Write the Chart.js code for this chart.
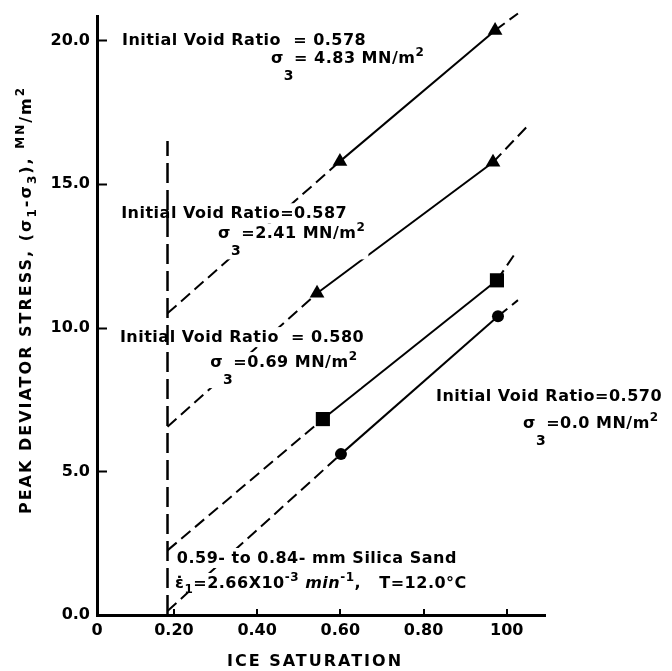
<!DOCTYPE html>
<html>
<head>
<meta charset="utf-8">
<title>Peak deviator stress vs ice saturation</title>
<script src="https://cdn.jsdelivr.net/npm/chart.js@4.4.1/dist/chart.umd.min.js"></script>
<style>
  html, body { margin: 0; padding: 0; background: #fff; }
  canvas { display: block; }
</style>
</head>
<body>
<canvas id="chart" width="672" height="671"></canvas>
<script>
/* global Chart */
(function () {
  'use strict';

  // axis ranges and tick labels
  const xMin = 0.015;
  const xMax = 1.092;
  const yMin = 0;
  const yMax = 20.83;
  const xTickValues = [0.015, 0.2, 0.4, 0.6, 0.8, 1.0];
  const xTickLabels = ['0', '0.20', '0.40', '0.60', '0.80', '100'];
  const yTickValues = [0, 5, 10, 15, 20];
  const yTickLabels = ['0.0', '5.0', '10.0', '15.0', '20.0'];

  // each line: dashed lower end, two test points, dashed upper end
  const satE578 = [0.1845, 0.599, 0.972, 1.027];
  const stressE578 = [10.5, 15.79, 20.35, 20.94];
  const satE587 = [0.1845, 0.544, 0.967, 1.056];
  const stressE587 = [6.55, 11.2, 15.76, 17.11];
  const satE580 = [0.1845, 0.558, 0.9765, 1.017];
  const stressE580 = [2.25, 6.82, 11.65, 12.52];
  const satE570 = [0.1845, 0.6015, 0.979, 1.027];
  const stressE570 = [0.14, 5.6, 10.4, 10.96];

  // vertical dashed limit near 0.18 ice saturation
  const guideX = [0.1845, 0.1845];
  const guideY = [0, 16.5];

  const seriesNames = [
    'e = 0.578, σ3 = 4.83',
    'e = 0.587, σ3 = 2.41',
    'e = 0.580, σ3 = 0.69',
    'e = 0.570, σ3 = 0.0'
  ];
  const seriesX = [satE578, satE587, satE580, satE570];
  const seriesY = [stressE578, stressE587, stressE580, stressE570];
  const markerStyles = ['triangle', 'triangle', 'rect', 'circle'];
  const markerSizes = [8.5, 8.5, 10, 6];

  const FONT = '"DejaVu Sans", sans-serif';
  Chart.defaults.font.family = FONT;
  Chart.defaults.font.weight = 'bold';
  Chart.defaults.font.size = 16;
  Chart.defaults.color = '#000';

  function pts(xs, ys) {
    return xs.map(function (x, i) { return { x: x, y: ys[i] }; });
  }

  // rich text bits
  const sub3 = function (t) { return { t: t, size: 14, dy: 17 }; };
  const sub = function (t) { return { t: t, size: 12, dy: 5 }; };
  const sup = function (t) { return { t: t, size: 12, dy: -7 }; };
  const it = function (t) { return { t: t, it: true }; };

  const notes = [
    { x: 0.075, y: 19.83, parts: ['Initial Void Ratio  = 0.578'] },
    { x: 0.433, y: 19.2, parts: ['σ', sub3('3'), '= 4.83 MN/m', sup('2')] },
    { x: 0.073, y: 13.81, parts: ['Initial Void Ratio=0.587'] },
    { x: 0.306, y: 13.11, parts: ['σ', sub3('3'), '=2.41 MN/m', sup('2')] },
    { x: 0.070, y: 9.5, parts: ['Initial Void Ratio  = 0.580'] },
    { x: 0.287, y: 8.63, parts: ['σ', sub3('3'), '=0.69 MN/m', sup('2')] },
    { x: 0.830, y: 7.44, parts: ['Initial Void Ratio=0.570'] },
    { x: 1.039, y: 6.5, parts: ['σ', sub3('3'), '=0.0 MN/m', sup('2')] },
    { x: 0.207, y: 1.81, parts: ['0.59- to 0.84- mm Silica Sand'] },
    { x: 0.2025, y: 0.94, parts: ['ε̇', sub('1'), '=2.66X10', sup('-3'), ' ', it('min'), sup('-1'), ',   T=12.0°C'] }
  ];

  function norm(p) {
    return typeof p === 'string' ? { t: p } : p;
  }

  function setFont(ctx, p) {
    ctx.font = (p.it ? 'italic ' : '') + 'bold ' + (p.size || 16) + 'px ' + FONT;
  }

  function richWidth(ctx, parts) {
    let w = 0;
    parts.map(norm).forEach(function (p) {
      setFont(ctx, p);
      w += ctx.measureText(p.t).width;
    });
    return w;
  }

  function drawRich(ctx, x, y, parts) {
    let cx = x;
    parts.map(norm).forEach(function (p) {
      setFont(ctx, p);
      ctx.fillText(p.t, cx, y + (p.dy || 0));
      cx += ctx.measureText(p.t).width;
    });
  }

  const notesPlugin = {
    id: 'notes',
    // dataset 0 (the guide) is drawn last, so notes sit between the lines and it
    beforeDatasetDraw: function (chart, args) {
      if (args.index !== 0) return;
      const ctx = chart.ctx;
      const sx = chart.scales.x;
      const sy = chart.scales.y;
      ctx.save();
      ctx.textBaseline = 'alphabetic';
      ctx.textAlign = 'left';
      if ('letterSpacing' in ctx) ctx.letterSpacing = '0.5px';
      notes.forEach(function (n) {
        const px = sx.getPixelForValue(n.x);
        const py = sy.getPixelForValue(n.y);
        const w = richWidth(ctx, n.parts);
        const deep = n.parts.some(function (p) { return p.dy && p.dy > 10; });
        ctx.fillStyle = '#fff';
        ctx.fillRect(px - 3, py - 15, w + 6, deep ? 36 : 20);
        ctx.fillStyle = '#000';
        drawRich(ctx, px, py, n.parts);
      });
      ctx.restore();
    },
    afterDraw: function (chart) {
      const ctx = chart.ctx;
      const sx = chart.scales.x;
      const sy = chart.scales.y;
      const area = chart.chartArea;
      ctx.save();
      // inward tick marks
      ctx.strokeStyle = '#000';
      ctx.lineWidth = 2;
      ctx.beginPath();
      yTickValues.slice(1).forEach(function (v) {
        const py = Math.round(sy.getPixelForValue(v)) + 0.5;
        ctx.moveTo(area.left, py);
        ctx.lineTo(area.left + 10, py);
      });
      xTickValues.slice(1).forEach(function (v) {
        const px = Math.round(sx.getPixelForValue(v));
        ctx.moveTo(px, area.bottom);
        ctx.lineTo(px, area.bottom - 6);
      });
      ctx.stroke();

      // axis titles
      ctx.fillStyle = '#000';
      if ('letterSpacing' in ctx) ctx.letterSpacing = '2px';
      ctx.textBaseline = 'alphabetic';
      const xt = ['ICE SATURATION'];
      drawRich(ctx, 315 - richWidth(ctx, xt) / 2, 666, xt);

      const yt = ['PEAK DEVIATOR STRESS, (σ', sub('1'), '-σ', sub('3'), '), ', sup('MN'), '/m', sup('2')];
      ctx.translate(25, 300);
      ctx.rotate(-Math.PI / 2);
      drawRich(ctx, -richWidth(ctx, yt) / 2, 6, yt);
      ctx.restore();
    }
  };

  const datasets = [{
    label: 'limit',
    data: pts(guideX, guideY),
    borderColor: '#000',
    borderWidth: 2.5,
    borderDash: [20, 7],
    pointRadius: 0,
    clip: false
  }];

  seriesNames.forEach(function (name, s) {
    const r = markerSizes[s];
    datasets.push({
      label: name,
      data: pts(seriesX[s], seriesY[s]),
      borderColor: '#000',
      borderWidth: 2,
      backgroundColor: '#000',
      pointBackgroundColor: '#000',
      pointBorderColor: '#000',
      pointBorderWidth: 0,
      pointStyle: markerStyles[s],
      pointRadius: [0, r, r, 0],
      tension: 0,
      clip: false,
      segment: {
        borderDash: function (c) { return c.p0DataIndex === 1 ? undefined : [12, 6]; }
      }
    });
  });

  new Chart(document.getElementById('chart').getContext('2d'), {
    type: 'line',
    data: { datasets: datasets },
    options: {
      responsive: false,
      animation: false,
      events: [],
      layout: { padding: { left: 0, right: 127, top: 16, bottom: 0 } },
      plugins: {
        legend: { display: false },
        tooltip: { enabled: false }
      },
      scales: {
        x: {
          type: 'linear',
          min: xMin,
          max: xMax,
          grid: { display: false, drawTicks: false },
          border: { display: true, color: '#000', width: 3 },
          afterBuildTicks: function (axis) {
            axis.ticks = xTickValues.map(function (v) { return { value: v }; });
          },
          afterFit: function (axis) { axis.height = 56; },
          ticks: {
            autoSkip: false,
            maxRotation: 0,
            padding: 6,
            callback: function (v, i) { return xTickLabels[i]; }
          }
        },
        y: {
          type: 'linear',
          min: yMin,
          max: yMax,
          grid: { display: false, drawTicks: false },
          border: { display: true, color: '#000', width: 3 },
          afterBuildTicks: function (axis) {
            axis.ticks = yTickValues.map(function (v) { return { value: v }; });
          },
          afterFit: function (axis) { axis.width = 97; },
          ticks: {
            autoSkip: false,
            padding: 7,
            callback: function (v, i) { return yTickLabels[i]; }
          }
        }
      }
    },
    plugins: [notesPlugin]
  });
})();
</script>
</body>
</html>
